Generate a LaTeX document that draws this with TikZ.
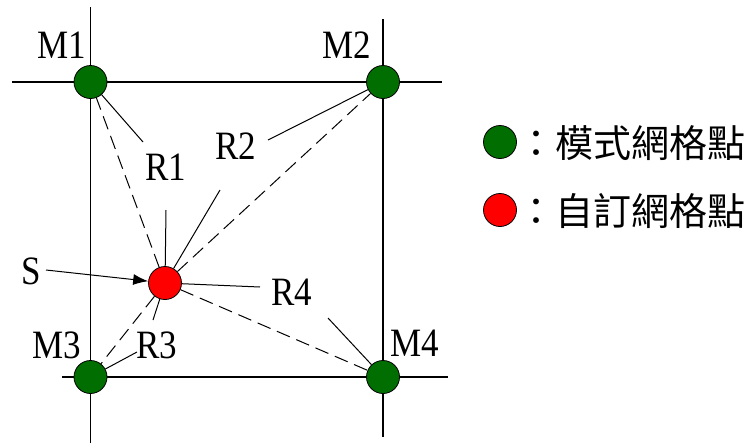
\documentclass[tikz,border=0pt]{standalone}
\usepackage{fontspec}
\setmainfont{Liberation Serif}
\newfontfamily\cjk{Noto Sans CJK TC}
\usetikzlibrary{arrows.meta}
\definecolor{gridgreen}{RGB}{0,110,0}
\definecolor{custred}{RGB}{255,0,0}
\newcommand{\lbl}[1]{\scalebox{1}[1.15]{#1}}
\begin{document}
\begin{tikzpicture}[x=1pt,y=-1pt,
  gridline/.style={line width=1.3pt},
  dot/.style={circle,draw=black,line width=0.8pt,minimum size=33pt,inner sep=0pt},
  model/.style={dot,fill=gridgreen},
  own/.style={dot,fill=custred},
  lab/.style={inner sep=0pt,font=\fontsize{35}{40}\selectfont},
  leg/.style={inner sep=0pt,anchor=west,font=\cjk\fontsize{38}{44}\selectfont},
  dist/.style={line width=1pt,dash pattern=on 14pt off 7pt},
  leader/.style={line width=1pt},
]
\useasboundingbox (0,0) rectangle (751,445);
% grid lines
\coordinate (v1t) at (90.5,7);  \coordinate (v1b) at (90.5,443);
\coordinate (v2t) at (383,19);  \coordinate (v2b) at (383,437);
\coordinate (h1l) at (12,82);   \coordinate (h1r) at (442,82);
\coordinate (h2l) at (62,377);  \coordinate (h2r) at (448,377);
\draw[gridline] (v1t) -- (v1b);
\draw[gridline] (v2t) -- (v2b);
\draw[gridline] (h1l) -- (h1r);
\draw[gridline] (h2l) -- (h2r);
% points
\node[model] (M1) at (90.5,82) {};
\node[model] (M2) at (383,82) {};
\node[model] (M3) at (90.5,377) {};
\node[model] (M4) at (383,377) {};
\node[own] (S) at (165,283) {};
% labels
\node[lab] (tM1) at (61.5,45.5) {\lbl{M1}};
\node[lab] (tM2) at (347,45.5) {\lbl{M2}};
\node[lab] (tM3) at (57,345) {\lbl{M3}};
\node[lab] (tM4) at (415,343) {\lbl{M4}};
\node[lab] (tR1) at (166,167) {\lbl{R1}};
\node[lab] (tR2) at (236,146) {\lbl{R2}};
\node[lab] (tR3) at (157,345) {\lbl{R3}};
\node[lab] (tR4) at (292,292) {\lbl{R4}};
\node[lab] (tS) at (31.5,271.5) {\lbl{S}};
% distance lines
\draw[dist] (S) -- (M1);
\draw[dist] (S) -- (M2);
\draw[dist] (S) -- (M3);
\draw[dist] (S) -- (M4);
% leaders
\coordinate (r1a) at (143,142); \coordinate (r1b) at (166,210);
\coordinate (r2a) at (268,140); \coordinate (r2b) at (220,190);
\coordinate (r3a) at (137,352); \coordinate (r3b) at (153,320);
\coordinate (r4a) at (260,287); \coordinate (r4b) at (328,318);
\draw[leader] (M1) -- (r1a);
\draw[leader] (r1b) -- (S);
\draw[leader] (r2a) -- (M2);
\draw[leader] (r2b) -- (S);
\draw[leader] (r3a) -- (M3);
\draw[leader] (r3b) -- (S);
\draw[leader] (r4a) -- (S);
\draw[leader] (r4b) -- (M4);
% arrow S
\coordinate (sa) at (46,270);
\draw[line width=1pt,-{Latex[length=15pt,width=11pt]}] (sa) -- (S);
% legend
\node[model] (lg) at (500,142) {};
\node[own] (lr) at (500,210) {};
\node[leg] (lgt) at (517,143) {：模式網格點};
\node[leg] (lrt) at (517,211) {：自訂網格點};
\end{tikzpicture}
\end{document}
